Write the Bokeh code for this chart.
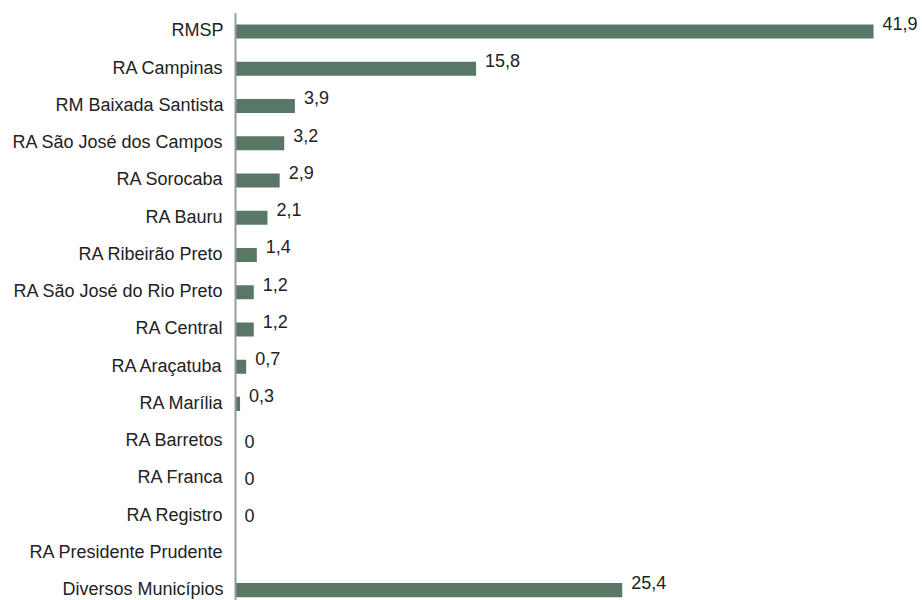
from bokeh.plotting import figure
from bokeh.models import Range1d, ColumnDataSource
from bokeh.embed import file_html
from bokeh.resources import INLINE
from bokeh.core.properties import value

categories = [
    "RMSP", "RA Campinas", "RM Baixada Santista", "RA São José dos Campos",
    "RA Sorocaba", "RA Bauru", "RA Ribeirão Preto", "RA São José do Rio Preto",
    "RA Central", "RA Araçatuba", "RA Marília", "RA Barretos", "RA Franca",
    "RA Registro", "RA Presidente Prudente", "Diversos Municípios",
]
values = [41.9, 15.8, 3.9, 3.2, 2.9, 2.1, 1.4, 1.2, 1.2, 0.7, 0.3, 0, 0, 0, None, 25.4]

n = len(categories)
ypos = [n - 1 - i for i in range(n)]
right = [v if v is not None else 0 for v in values]
labels = []
dy = []
for v in values:
    if v is None:
        labels.append("")
        dy.append(0)
    elif v == 0:
        labels.append("0")
        dy.append(0)
    else:
        labels.append(f"{v:.1f}".replace(".", ","))
        dy.append(-8)

src = ColumnDataSource(dict(y=ypos, right=right, label=labels, name=categories,
                            zero=[0] * n, dy=dy))

FONT = "Liberation Sans"
BAR = "#587767"
TXT = "#222222"

p = figure(width=922, height=600, output_backend="svg", toolbar_location=None,
           x_range=Range1d(-15.433, 45.117), y_range=Range1d(-0.277, 15.832),
           x_axis_location=None, y_axis_location=None,
           min_border_left=0, min_border_right=0,
           min_border_top=0, min_border_bottom=0)
p.outline_line_color = None
p.xgrid.visible = False
p.ygrid.visible = False

p.hbar(y="y", left=0, right="right", height=0.38, source=src,
       fill_color=BAR, line_color=None)
# vertical axis line at x = 0
p.segment(x0=[0], y0=[-1], x1=[0], y1=[n - 1 + 0.497],
          line_color="#9a9a9a", line_width=2)
p.text(x="right", y="y", text="label", source=src, x_offset=9, y_offset="dy",
       text_font=value(FONT), text_font_size="18px", text_color=TXT,
       text_baseline="middle", text_align="left")
p.text(x="zero", y="y", text="name", source=src, x_offset=-12, y_offset=-1,
       text_font=value(FONT), text_font_size="18px", text_color=TXT,
       text_baseline="middle", text_align="right")

open("out.html", "w").write(file_html(p, INLINE))
